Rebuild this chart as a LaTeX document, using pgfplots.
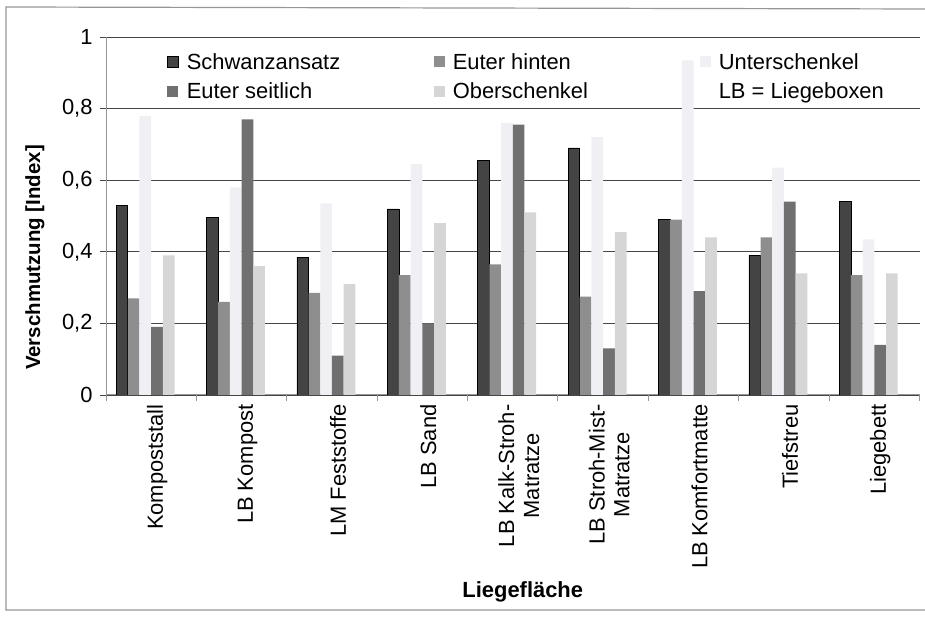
\documentclass[border=0pt]{standalone}
\usepackage{fontspec}
\setmainfont{Liberation Sans}
\usepackage{pgfplots}
\usepackage{pgfplotstable}
\pgfplotsset{compat=1.18}

\definecolor{cS}{RGB}{68,68,68}
\definecolor{cEH}{RGB}{142,142,142}
\definecolor{cU}{RGB}{240,240,244}
\definecolor{cES}{RGB}{112,112,112}
\definecolor{cO}{RGB}{214,214,214}
\definecolor{gridc}{RGB}{70,70,70}
\definecolor{axc}{RGB}{150,150,150}

% S = Schwanzansatz, EH = Euter hinten, U = Unterschenkel, ES = Euter seitlich, O = Oberschenkel
\pgfplotstableread{
x S     EH    U     ES    O
0 0.530 0.270 0.780 0.190 0.390
1 0.495 0.260 0.580 0.770 0.360
2 0.385 0.285 0.535 0.110 0.310
3 0.520 0.335 0.645 0.200 0.480
4 0.655 0.365 0.760 0.755 0.510
5 0.690 0.275 0.720 0.130 0.455
6 0.490 0.490 0.935 0.290 0.440
7 0.390 0.440 0.635 0.540 0.340
8 0.540 0.335 0.435 0.140 0.340
}\dataVerschmutzung

\begin{document}
\begin{tikzpicture}
\useasboundingbox (0,0) rectangle (925bp,618bp);
\draw[axc, line width=1.2bp] (925bp,609bp) -- (6bp,611bp) -- (6bp,8bp) -- (925bp,8bp);
\begin{axis}[
    at={(106bp,223bp)}, anchor=south west,
    scale only axis,
    width=813.5bp, height=358bp,
    xmin=-0.5, xmax=8.5,
    ymin=0, ymax=1,
    ytick={0,0.2,...,1},
    yticklabel style={/pgf/number format/use comma, /pgf/number format/fixed,
        /pgf/number format/precision=1, /pgf/number format/assume math mode=true,
        font=\fontsize{22}{26}\selectfont, xshift=-4bp},
    ymajorgrids,
    grid style={gridc, line width=0.9bp},
    axis x line*=bottom, axis y line*=left,
    axis line style={axc, line width=1bp},
    y tick style={gridc, line width=0.9bp},
    tick align=outside,
    major tick length=6bp,
    xtick={0,...,8},
    x tick style={draw=none},
    xticklabels={Kompoststall, LB Kompost, LM Feststoffe, LB Sand,
        {LB Kalk-Stroh-\\Matratze}, {LB Stroh-Mist-\\Matratze},
        LB Komfortmatte, Tiefstreu, Liegebett},
    xticklabel style={rotate=90, anchor=east, align=center,
        font=\fontsize{22}{25}\selectfont, yshift=-6bp},
    extra x ticks={-0.5,0.5,...,8.5},
    extra x tick labels={},
    extra x tick style={grid=none, x tick style={draw=axc, line width=1bp}},
    xlabel={\textbf{Liegefläche}},
    xlabel style={at={(axis description cs:0.5,0)}, anchor=center,
        xshift=10bp, yshift=-197bp, font=\fontsize{22}{26}\selectfont},
    ylabel={\textbf{Verschmutzung [Index]}},
    ylabel style={at={(axis description cs:0,0.384)}, anchor=center, yshift=71bp,
        font=\fontsize{20.5}{24}\selectfont},
    legend columns=3,
    legend style={draw=none, fill=none, at={(axis description cs:0,1)}, anchor=north west,
        xshift=58bp, yshift=-12bp, font=\fontsize{22}{24}\selectfont,
        /tikz/every odd column/.append style={column sep=6bp},
        row sep=8bp},
    legend cell align=left,
    legend image code/.code={\path[#1] (0bp,-5.5bp) rectangle (11bp,5.5bp);},
]
\addplot[ybar, bar width=11.7bp, bar shift=-29.25bp, fill=cS, draw=black, line width=0.6bp]
    table[x=x, y=S] {\dataVerschmutzung};
\addlegendentry{\makebox[245bp][l]{Schwanzansatz}}
\addplot[ybar, bar width=11.7bp, bar shift=-17.55bp, fill=cEH, draw=none]
    table[x=x, y=EH] {\dataVerschmutzung};
\addlegendentry{\makebox[245bp][l]{Euter hinten}}
\addplot[ybar, bar width=11.7bp, bar shift=-5.85bp, fill=cU, draw=none]
    table[x=x, y=U] {\dataVerschmutzung};
\addlegendentry{Unterschenkel}
\addplot[ybar, bar width=11.7bp, bar shift=5.85bp, fill=cES, draw=none]
    table[x=x, y=ES] {\dataVerschmutzung};
\addlegendentry{\makebox[245bp][l]{Euter seitlich}}
\addplot[ybar, bar width=11.7bp, bar shift=17.55bp, fill=cO, draw=none]
    table[x=x, y=O] {\dataVerschmutzung};
\addlegendentry{\makebox[245bp][l]{Oberschenkel}}
\addlegendimage{legend image code/.code={}}
\addlegendentry{LB = Liegeboxen}
\end{axis}
\end{tikzpicture}
\end{document}
